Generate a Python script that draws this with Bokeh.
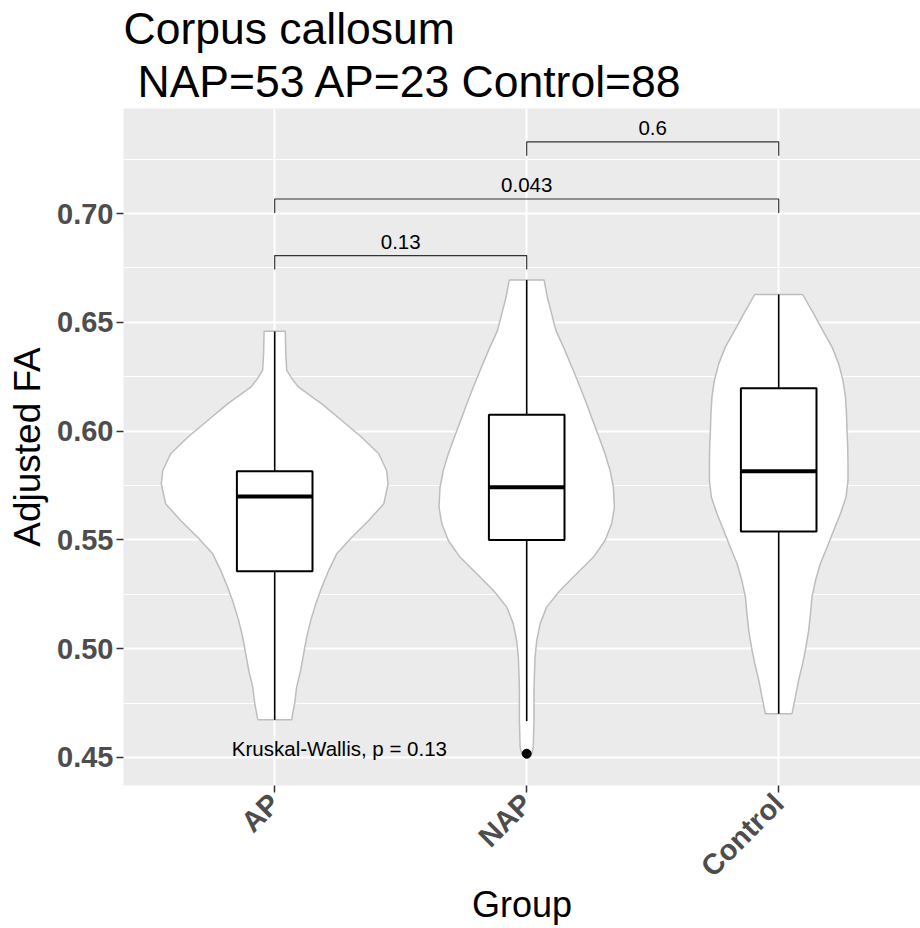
import math
from bokeh.plotting import figure
from bokeh.models import FixedTicker, Title, Range1d
from bokeh.embed import file_html
from bokeh.resources import INLINE
from bokeh.core.properties import value

# ---------------- data ----------------
groups = ["AP", "NAP", "Control"]
group_n = [23, 53, 88]
title_main = "Corpus callosum"

q1 = [0.5356, 0.5500, 0.5539]
median = [0.5700, 0.5742, 0.5816]
q3 = [0.5816, 0.6075, 0.6197]
whisker_low = [0.4673, 0.4667, 0.4701]
whisker_high = [0.6458, 0.6695, 0.6628]

outlier_group = ["NAP"]
outlier_value = [0.4517]

ap_violin_y = [0.6459, 0.6355, 0.6279, 0.6240, 0.6202, 0.6125, 0.6049, 0.5972, 0.5896,
               0.5819, 0.5758, 0.5666, 0.5589, 0.5512, 0.5436, 0.5359, 0.5283, 0.5206,
               0.5130, 0.5053, 0.4977, 0.4900, 0.4823, 0.4747, 0.4673]
ap_violin_halfwidth = [0.042, 0.044, 0.048, 0.069, 0.095, 0.187, 0.266, 0.345, 0.413,
                       0.444, 0.450, 0.433, 0.373, 0.306, 0.246, 0.214, 0.187, 0.163,
                       0.143, 0.127, 0.115, 0.103, 0.087, 0.079, 0.067]

nap_violin_y = [0.6695, 0.6615, 0.6539, 0.6462, 0.6386, 0.6279, 0.6202, 0.6125, 0.6049,
                0.5972, 0.5896, 0.5819, 0.5742, 0.5650, 0.5574, 0.5497, 0.5421, 0.5344,
                0.5267, 0.5191, 0.5114, 0.5038, 0.4961, 0.4823, 0.4670, 0.4547, 0.4517]
nap_violin_halfwidth = [0.069, 0.082, 0.099, 0.116, 0.146, 0.185, 0.212, 0.238, 0.262,
                        0.287, 0.311, 0.331, 0.344, 0.348, 0.337, 0.311, 0.265, 0.198,
                        0.132, 0.079, 0.053, 0.040, 0.033, 0.029, 0.029, 0.026, 0.020]

control_violin_y = [0.6628, 0.6539, 0.6462, 0.6386, 0.6309, 0.6233, 0.6156, 0.6079, 0.6003,
                    0.5926, 0.5850, 0.5773, 0.5696, 0.5620, 0.5543, 0.5466, 0.5390, 0.5313,
                    0.5237, 0.5160, 0.5084, 0.5007, 0.4931, 0.4854, 0.4777, 0.4701]
control_violin_halfwidth = [0.095, 0.139, 0.175, 0.212, 0.238, 0.255, 0.265, 0.269, 0.271,
                            0.274, 0.275, 0.275, 0.267, 0.245, 0.218, 0.192, 0.165, 0.146,
                            0.132, 0.126, 0.119, 0.108, 0.095, 0.079, 0.066, 0.053]

comp_a = ["AP", "AP", "NAP"]
comp_b = ["NAP", "Control", "Control"]
comp_p = ["0.13", "0.043", "0.6"]
comp_y = [0.6807, 0.7067, 0.7330]

kw_text = "Kruskal-Wallis, p = 0.13"

y_ticks = [0.45, 0.50, 0.55, 0.60, 0.65, 0.70]
y_minor = [0.475, 0.525, 0.575, 0.625, 0.675, 0.725]
y_tick_labels = ["0.45", "0.50", "0.55", "0.60", "0.65", "0.70"]

# ---------------- figure ----------------
FONT = "Liberation Sans"
pos = {g: i + 1 for i, g in enumerate(groups)}

FW = 920 - 123
p = figure(width=920, height=928, output_backend="svg", toolbar_location=None,
           x_range=Range1d(0.4, 0.4 + FW / 252), y_range=Range1d(0.4371, 0.7483),
           min_border_left=123, min_border_right=0, min_border_top=108, min_border_bottom=143)
p.background_fill_color = "#EBEBEB"
p.border_fill_color = "white"
p.outline_line_color = None

# titles (first added sits closest to the plot)
line2 = "NAP=%d AP=%d Control=%d" % (group_n[1], group_n[0], group_n[2])
t2 = Title(text=line2, align="left", offset=14, text_font=FONT, text_font_size="44.5px",
           text_font_style="normal", text_color="black", standoff=5)
p.add_layout(t2, "above")
t1 = Title(text=title_main, align="left", offset=0, text_font=FONT, text_font_size="44.5px",
           text_font_style="normal", text_color="black", standoff=0)
p.add_layout(t1, "above")

# grid
p.xgrid.ticker = FixedTicker(ticks=[pos[g] for g in groups])
p.xgrid.grid_line_color = "white"
p.xgrid.grid_line_width = 2
p.ygrid.ticker = FixedTicker(ticks=y_ticks, minor_ticks=y_minor)
p.ygrid.grid_line_color = "white"
p.ygrid.grid_line_width = 2
p.ygrid.minor_grid_line_color = "white"
p.ygrid.minor_grid_line_width = 1

# axes
p.xaxis.ticker = FixedTicker(ticks=[pos[g] for g in groups])
p.xaxis.major_label_overrides = {pos[g]: g for g in groups}
p.yaxis.ticker = FixedTicker(ticks=y_ticks, minor_ticks=y_minor)
p.yaxis.major_label_overrides = {t: l for t, l in zip(y_ticks, y_tick_labels)}
for ax in (p.xaxis, p.yaxis):
    ax.axis_line_color = None
    ax.major_tick_line_color = "#333333"
    ax.major_tick_line_width = 1.5
    ax.major_tick_out = 7
    ax.major_tick_in = 0
    ax.minor_tick_line_color = None
    ax.major_label_text_font = FONT
    ax.major_label_text_font_size = "29px"
    ax.major_label_text_font_style = "bold"
    ax.major_label_text_color = "#4D4D4D"
    ax.major_label_standoff = 3
    ax.axis_label_text_font = FONT
    ax.axis_label_text_font_style = "normal"
    ax.axis_label_text_color = "black"
p.xaxis.major_label_orientation = math.pi / 4
p.xaxis.major_label_standoff = 6
p.xaxis.axis_label = "Group"
p.xaxis.axis_label_text_font_size = "36px"
p.xaxis.axis_label_text_line_height = 1.0
p.xaxis.axis_label_standoff = -13
p.yaxis.axis_label = "Adjusted FA"
p.yaxis.axis_label_text_font_size = "37px"
p.yaxis.axis_label_standoff = 6

# violins
profiles = {"AP": (ap_violin_y, ap_violin_halfwidth),
            "NAP": (nap_violin_y, nap_violin_halfwidth),
            "Control": (control_violin_y, control_violin_halfwidth)}
vxs, vys = [], []
for g in groups:
    ys, hw = profiles[g]
    c = pos[g]
    vxs.append([c + w for w in hw] + [c - w for w in reversed(hw)])
    vys.append(list(ys) + list(reversed(ys)))
p.patches(vxs, vys, fill_color="white", line_color="#BDBDBD", line_width=1.5)

# boxplots
cx = [pos[g] for g in groups]
bw = 0.15
p.segment(x0=cx, x1=cx, y0=q3, y1=whisker_high, line_color="black", line_width=1.6)
p.segment(x0=cx, x1=cx, y0=q1, y1=whisker_low, line_color="black", line_width=1.6)
p.quad(left=[c - bw for c in cx], right=[c + bw for c in cx], bottom=q1, top=q3,
       fill_color="white", line_color="black", line_width=2)
p.segment(x0=[c - bw for c in cx], x1=[c + bw for c in cx], y0=median, y1=median,
          line_color="black", line_width=4)
p.scatter(x=[pos[g] for g in outlier_group], y=outlier_value, size=9,
          fill_color="black", line_color="black")

# pairwise comparison brackets
tip = 0.0064
bxs, bys = [], []
for a, b, y in zip(comp_a, comp_b, comp_y):
    xa, xb = pos[a], pos[b]
    bxs.append([xa, xa, xb, xb])
    bys.append([y - tip, y, y, y - tip])
p.multi_line(bxs, bys, line_color="#333333", line_width=1.2)
p.text(x=[(pos[a] + pos[b]) / 2 for a, b in zip(comp_a, comp_b)], y=comp_y, text=comp_p,
       text_align="center", text_baseline="bottom", y_offset=-7,
       text_font=value(FONT), text_font_size="20.5px", text_color="black")

# Kruskal-Wallis label
p.text(x=[0.83], y=[min(outlier_value)], text=[kw_text], text_align="left",
       text_baseline="alphabetic", y_offset=-5, text_font=value(FONT),
       text_font_size="20.5px", text_color="black")

open("out.html", "w").write(file_html(p, INLINE))
